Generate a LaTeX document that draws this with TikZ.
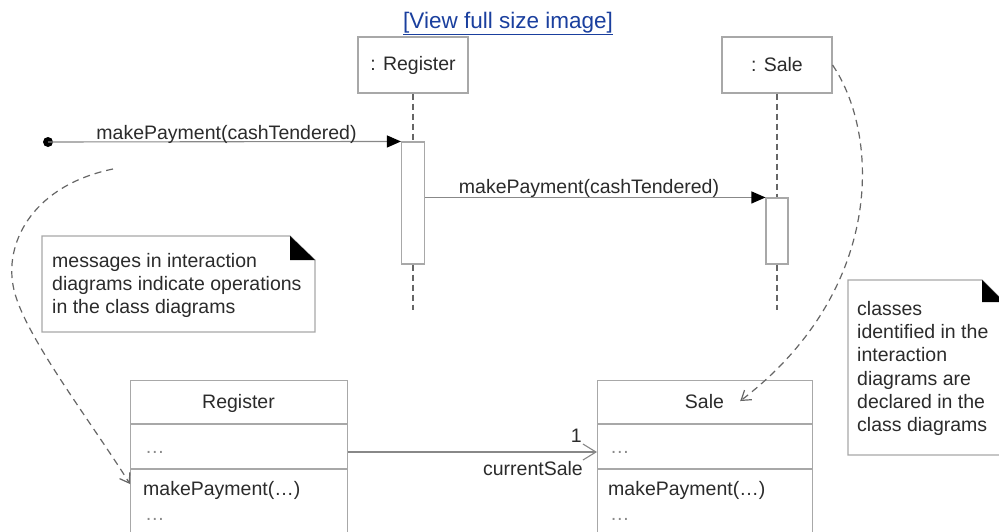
\documentclass[tikz,border=0pt]{standalone}
\usepackage{fontspec}
\setmainfont{Liberation Sans}
\usetikzlibrary{arrows.meta}
\definecolor{boxgray}{HTML}{A8A8A8}
\definecolor{linegray}{HTML}{888888}
\definecolor{dashgray}{HTML}{666666}
\definecolor{txtgray}{HTML}{2B2B2B}
\definecolor{dotgray}{HTML}{8A8A8A}
\definecolor{linkblue}{HTML}{1A3F9E}
\tikzstyle{umltext}=[font=\fontsize{19.5}{23.3}\selectfont, text=txtgray, inner sep=0pt]
\tikzstyle{headbox}=[umltext, draw=boxgray, line width=1.1pt, minimum width=110pt, minimum height=56pt]
\tikzstyle{actbar}=[draw=boxgray, fill=white, line width=1.1pt, inner sep=0pt]
\tikzstyle{lifeline}=[dashgray, line width=1.2pt, dash pattern=on 6pt off 4pt]
\tikzstyle{message}=[linegray, line width=1.1pt, -{Triangle[length=14pt, width=12pt, color=black]}]
\tikzstyle{trace}=[dashgray, line width=1.2pt, dash pattern=on 7pt off 5pt, -{Straight Barb[length=9pt, width=12pt]}]
\tikzstyle{assoc}=[linegray, line width=1.1pt, -{Straight Barb[length=13pt, width=16pt]}]
\tikzstyle{classbox}=[draw=boxgray, line width=1.1pt, anchor=north west, inner sep=0pt]
\tikzstyle{notebox}=[draw=boxgray, line width=1.1pt, fill=white]
\tikzstyle{dots}=[umltext, text=dotgray]

\begin{document}
\begin{tikzpicture}[x=1pt, y=-1pt]
				\clip (0,0) rectangle (999,531);
				\fill[white] (0,0) rectangle (999,531);

				\node[umltext, text=linkblue, font=\fontsize{22.5}{26}\selectfont, anchor=base] (link) at (508,28) {\underline{[View full size image]}};

				\node[headbox] (reghead) at (413,65) {: Register};
				\node[headbox] (salehead) at (777,65) {: Sale};

				\node[actbar, minimum width=23pt, minimum height=122pt] (regact) at (413,203) {};
				\node[actbar, minimum width=22pt, minimum height=66pt] (saleact) at (777,231) {};
				\coordinate (regend) at (413,310);
				\coordinate (saleend) at (777,310);

				\draw[lifeline] (reghead.south) -- (regact.north);
				\draw[lifeline] (regact.south) -- (regend);
				\draw[lifeline] (salehead.south) -- (saleact.north);
				\draw[lifeline] (saleact.south) -- (saleend);

				\coordinate (found) at (48,142);
				\fill[black] (found) circle [radius=5pt];
				\draw[message] (found) -- (regact.north west);
				\node[umltext, anchor=base] (msgone) at (226.5,139) {makePayment(cashTendered)};

				\draw[message] (regact.east |- saleact.north) -- (saleact.north west);
				\node[umltext, anchor=base] (msgtwo) at (589,193) {makePayment(cashTendered)};

				\draw[notebox] (42,236) -- (290,236) -- (315,260) -- (315,332) -- (42,332) -- cycle;
				\fill[black] (290,236) -- (315,260) -- (290,260) -- cycle;
				\node[umltext, anchor=north west, align=left] (noteone) at (52,253) {messages in interaction\\diagrams indicate operations\\in the class diagrams};

				\draw[notebox] (848,280) -- (982,280) -- (1004,302) -- (1004,455) -- (848,455) -- cycle;
				\fill[black] (982,280) -- (1004,302) -- (982,302) -- cycle;
				\node[umltext, anchor=north west, align=left] (notetwo) at (857,301) {classes\\identified in the\\interaction\\diagrams are\\declared in the\\class diagrams};

				\node[classbox, minimum width=217pt, minimum height=170pt] (regcls) at (130,380) {};
				\draw[boxgray, line width=1.1pt] (regcls.west |- 0,424) -- (regcls.east |- 0,424);
				\draw[boxgray, line width=1.1pt] (regcls.west |- 0,469) -- (regcls.east |- 0,469);
				\node[umltext, anchor=base] (regname) at (238.5,408) {Register};
				\node[dots, anchor=base west] (regattr) at (145,453) {…};
				\node[umltext, anchor=base west] (regop) at (143,495) {makePayment(…)};
				\node[dots, anchor=base west] (regmore) at (145,520) {…};

				\node[classbox, minimum width=215pt, minimum height=170pt] (salecls) at (597,380) {};
				\draw[boxgray, line width=1.1pt] (salecls.west |- 0,424) -- (salecls.east |- 0,424);
				\draw[boxgray, line width=1.1pt] (salecls.west |- 0,469) -- (salecls.east |- 0,469);
				\node[umltext, anchor=base] (salename) at (704.5,408) {Sale};
				\node[dots, anchor=base west] (saleattr) at (610,453) {…};
				\node[umltext, anchor=base west] (saleop) at (608,495) {makePayment(…)};
				\node[dots, anchor=base west] (salemore) at (610,520) {…};

				\draw[assoc] (regcls.east |- 0,452) -- (salecls.west |- 0,452);
				\node[umltext, anchor=base east] (mult) at (582,442) {1};
				\node[umltext, anchor=base east] (role) at (583,475) {currentSale};

				\coordinate (traceone) at (113,169);
				\draw[trace] (traceone) .. controls (35,185) and (5,240) .. (13,285) .. controls (20,330) and (90,420) .. (regcls.west |- 0,484);
				\draw[trace] (salehead.east) .. controls (880,135) and (885,290) .. ([xshift=16pt]salename.east);
\end{tikzpicture}
\end{document}
